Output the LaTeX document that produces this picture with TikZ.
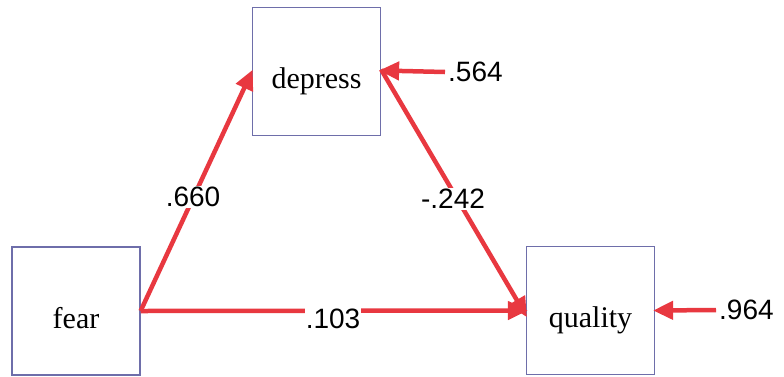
\documentclass[tikz,border=0pt]{standalone}
\usepackage{fontspec}
\setmainfont{Liberation Serif}
\newfontfamily\numfont{Liberation Sans}
\usetikzlibrary{arrows.meta}
\definecolor{pathred}{RGB}{232,56,64}
\definecolor{boxblue}{RGB}{110,110,170}
\begin{document}
\begin{tikzpicture}[x=1pt,y=-1pt,
  varbox/.style={draw=boxblue,line width=1.2pt,minimum width=128pt,minimum height=128pt,inner sep=0pt,text height=34pt,text depth=0pt,font=\fontsize{30}{32}\selectfont},
  path/.style={draw=pathred,line width=4.5pt,-{Triangle[length=20pt,width=18pt]},shorten >=-2pt},
  coef/.style={fill=white,inner sep=1pt,font=\numfont\fontsize{28}{30}\selectfont}]
\useasboundingbox (0,0) rectangle (784,376);
\node[varbox] (depress) at (316.5,71.5) {depress};
\node[varbox] (fear) at (76,311) {fear};
\node[varbox] (quality) at (590.5,310.5) {quality};
\coordinate (e1) at (445,72);
\coordinate (e2) at (716,310);
\draw[path] (fear.east) -- (depress.west);
\draw[path] (fear.east) -- (quality.west);
\draw[path] ([yshift=2pt]depress.east) -- ([yshift=-5pt]quality.west);
\draw[path] (e1) -- ([yshift=1pt]depress.east);
\draw[path] (e2) -- (quality.east);
\node[coef] (c1) at (193,197) {.660};
\node[coef] (c2) at (453,199) {-.242};
\node[coef] (c3) at (333,319) {.103};
\node[coef,anchor=west,fill=none] (c4) at ([xshift=2pt]e1) {.564};
\node[coef,anchor=west,fill=none] (c5) at ([xshift=2pt]e2) {.964};
\end{tikzpicture}
\end{document}
